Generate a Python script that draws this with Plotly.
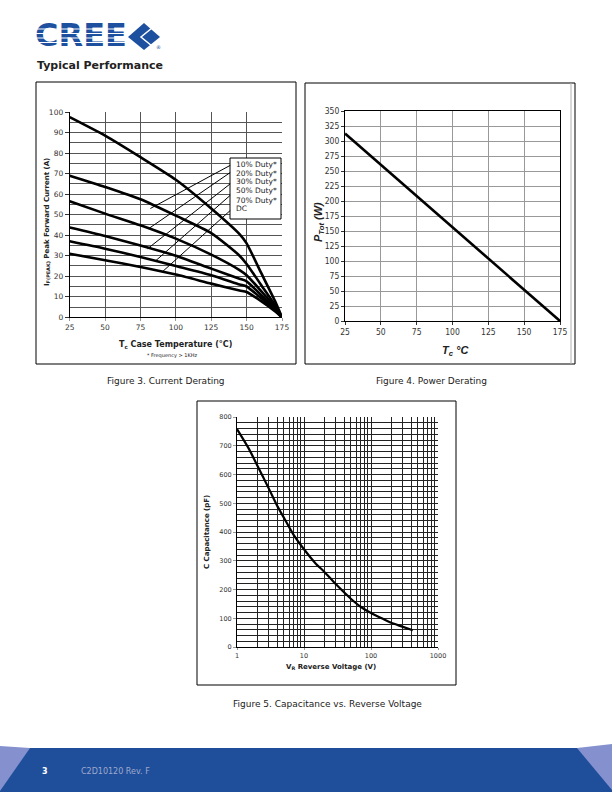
import plotly.graph_objects as go

W, H = 612, 792


def px(x):
    return x / W


def py(y):
    return 1 - y / H


# ---------------- data ----------------
# Figure 3: current derating
tc3 = [25, 50, 75, 100, 125, 145, 150, 160, 170, 175]
i_curve1 = [97.5, 88.5, 78, 67, 53, 40.5, 36, 22, 8, 0]
i_curve2 = [69, 63.5, 57.5, 49.5, 41, 30, 26, 16, 6, 0]
i_curve3 = [56.5, 50.5, 44.8, 38.3, 30.5, 23, 20.5, 13, 5, 0]
i_curve4 = [43.7, 39.6, 35, 30, 23.7, 18.8, 17.5, 11, 4, 0]
i_curve5 = [37, 33.4, 29.4, 25, 20.5, 16, 15, 9.5, 3.5, 0]
i_curve6 = [31, 27.8, 24.5, 20.8, 16.4, 13, 12.3, 8, 3, 0]
legend_labels = ["10% Duty*", "20% Duty*", "30% Duty*", "50% Duty*", "70% Duty*", "DC"]
# leader lines: (start x, start y) at legend box -> (end x, end y) on curve
leader_start_y = [74, 70.5, 65, 59.4, 52]
leader_end_x = [82, 80.8, 80, 85.5, 90.2]
leader_end_y = [53, 43.2, 33.4, 27.4, 22]
leader_start_x = 138.4

# Figure 4: power derating
tc4 = [25, 175]
p_tot = [312.5, 0]

# Figure 5: capacitance vs reverse voltage
vr5 = [1, 1.5, 2, 3, 4, 5, 7, 10, 15, 20, 30, 50, 70, 100, 150, 200, 300, 420]
cap5 = [758, 690, 632, 550, 490, 450, 390, 340, 290, 262, 218, 168, 140, 118, 98, 84, 70, 58]

x3_ticks = [25, 50, 75, 100, 125, 150, 175]
x5_ticks = [1, 10, 100, 1000]
x5_ticktext = ["1", "10", "100", "1000"]
x5_minor = [m * d for d in (1, 10, 100) for m in range(2, 10)]

FONT = "DejaVu Sans, Verdana, sans-serif"
NARROW = "Liberation Sans Narrow, Arial Narrow, DejaVu Sans Condensed, sans-serif"
ARIAL = "Liberation Sans, Arial, sans-serif"
BLUE = "#1e50a0"

fig = go.Figure()

for ys in [i_curve1, i_curve2, i_curve3, i_curve4, i_curve5, i_curve6]:
    fig.add_trace(go.Scatter(x=tc3, y=ys, mode="lines", xaxis="x", yaxis="y",
                             line=dict(color="black", width=2.6, shape="spline", smoothing=0.6),
                             showlegend=False, hoverinfo="skip"))

fig.add_trace(go.Scatter(x=tc4, y=p_tot, mode="lines", xaxis="x2", yaxis="y2",
                         line=dict(color="black", width=2.6), showlegend=False, hoverinfo="skip"))

fig.add_trace(go.Scatter(x=vr5, y=cap5, mode="lines", xaxis="x3", yaxis="y3",
                         line=dict(color="black", width=2.2, shape="spline", smoothing=0.8),
                         showlegend=False, hoverinfo="skip"))

# logo word (page-pixel overlay axes, so white stripes can be drawn over it)
fig.add_trace(go.Scatter(x=[35], y=[37.5], mode="text", text=["<b>CREE</b>"],
                         textposition="middle right", xaxis="x4", yaxis="y4",
                         textfont=dict(family=FONT, size=32, color=BLUE, weight="bold"),
                         showlegend=False, hoverinfo="skip"))

shapes = []
annotations = []


def note(x, y, text, size, family=FONT, color="#222", xanchor="center", angle=0):
    annotations.append(dict(xref="paper", yref="paper", x=px(x), y=py(y), text=text,
                            showarrow=False, xanchor=xanchor, yanchor="middle",
                            textangle=angle, borderpad=0,
                            font=dict(family=family, size=size, color=color)))


# page boxes
for (x0, y0, x1, y1) in [(36, 82, 296, 364), (305, 83, 575, 364), (197, 401, 456, 685)]:
    shapes.append(dict(type="rect", xref="paper", yref="paper", x0=px(x0), x1=px(x1),
                       y0=py(y1), y1=py(y0), line=dict(color="black", width=1), layer="below"))
shapes.append(dict(type="line", xref="paper", yref="paper", x0=px(571), x1=px(571),
                   y0=py(364), y1=py(83), line=dict(color="#b0b0b0", width=1)))

# legend box fig3
shapes.append(dict(type="rect", xref="paper", yref="paper", x0=px(230), x1=px(281),
                   y0=py(219), y1=py(158), line=dict(color="black", width=1),
                   fillcolor="white", layer="above"))
for i, lab in enumerate(legend_labels):
    note(235, 164 + 9 * i, lab, 7.5, xanchor="left")
for sy, ex, ey in zip(leader_start_y, leader_end_x, leader_end_y):
    shapes.append(dict(type="line", xref="x", yref="y", x0=leader_start_x, y0=sy,
                       x1=ex, y1=ey, line=dict(color="black", width=1)))

# axis titles
note(47, 222, "<b>I<sub>F(PEAK)</sub> Peak Forward Current (A)</b>", 7, angle=-90)
note(175, 345, "<b>T<sub>c</sub> Case Temperature (°C)</b>", 8)
note(172, 355, "* Frequency > 1KHz", 5)
note(319, 222, "<b><i>P<sub>Tot</sub> (W)</i></b>", 11, family=ARIAL, angle=-90)
note(455, 351, "<b><i>T<sub>c</sub> °C</i></b>", 11, family=ARIAL)
note(207, 532, "<b>C Capacitance (pF)</b>", 7, angle=-90)
note(331, 667, "<b>V<sub>R</sub> Reverse Voltage (V)</b>", 7)
# captions
note(166, 381, "Figure 3. Current Derating", 9)
note(431, 381, "Figure 4. Power Derating", 9)
note(327, 704, "Figure 5. Capacitance vs. Reverse Voltage", 9)
# header
note(36, 65, "<b>Typical Performance</b>", 11, xanchor="left")
note(158, 47, "®", 5, color=BLUE)
# footer
note(41, 771, "<b>3</b>", 8, color="white", xanchor="left")
note(80, 771, "C2D10120 Rev. F", 8, color="#9fa8cc", xanchor="left")

# logo stripes
for sy in [29, 33.5, 38, 42.5]:
    shapes.append(dict(type="line", xref="paper", yref="paper", x0=px(34), x1=px(128),
                       y0=py(sy), y1=py(sy), line=dict(color="white", width=1.1)))


def path(pts):
    return "M " + " L ".join(f"{px(a):.5f},{py(b):.5f}" for a, b in pts) + " Z"


shapes.append(dict(type="path", xref="paper", yref="paper",
                   path=path([(128, 37), (144, 23), (160, 37), (144, 50)]),
                   fillcolor=BLUE, line=dict(width=0)))
shapes.append(dict(type="path", xref="paper", yref="paper",
                   path="M %f,%f L %f,%f L %f,%f" % (px(152), py(28), px(141), py(37), px(152), py(46)),
                   line=dict(color="white", width=1.5)))

# footer band
shapes.append(dict(type="rect", xref="paper", yref="paper", x0=0, x1=1, y0=0, y1=py(748),
                   fillcolor="#1f4f9b", line=dict(width=0)))
shapes.append(dict(type="path", xref="paper", yref="paper",
                   path=path([(0, 746), (30, 748), (0, 791)]), fillcolor="#8591cf", line=dict(width=0)))
shapes.append(dict(type="path", xref="paper", yref="paper",
                   path=path([(577, 748), (612, 744), (612, 790)]), fillcolor="#8591cf", line=dict(width=0)))

fig.update_layout(
    width=W, height=H, autosize=False,
    margin=dict(l=0, r=0, t=0, b=0, pad=0, autoexpand=False),
    paper_bgcolor="white", plot_bgcolor="rgba(0,0,0,0)",
    showlegend=False, hovermode=False,
    shapes=shapes, annotations=annotations,
    xaxis=dict(domain=[px(69.7), px(282)], range=[25, 175], tickvals=x3_ticks,
               showgrid=True, gridcolor="#555", gridwidth=1, zeroline=False, automargin=False,
               showline=True, linecolor="black", linewidth=1, ticks="outside", ticklen=3,
               tickcolor="#999", tickfont=dict(family=FONT, size=7.5, color="#333"), fixedrange=True),
    yaxis=dict(domain=[py(317.3), py(112)], range=[0, 100], dtick=10, automargin=False,
               showgrid=True, gridcolor="#555", gridwidth=1, zeroline=False,
               minor=dict(dtick=5, showgrid=True, gridcolor="#555", gridwidth=1),
               showline=True, linecolor="black", linewidth=1, ticks="outside", ticklen=4,
               tickcolor="#333", tickfont=dict(family=FONT, size=7.5, color="#333"), fixedrange=True),
    xaxis2=dict(domain=[px(345), px(560)], range=[25, 175], dtick=25, anchor="y2", automargin=False,
                showgrid=True, gridcolor="#999", gridwidth=1, zeroline=False,
                showline=True, mirror=True, linecolor="black", linewidth=1, ticks="outside", ticklen=3,
                tickcolor="#333", tickfont=dict(family=NARROW, size=8.5, color="#333"), fixedrange=True),
    yaxis2=dict(domain=[py(321), py(111)], range=[0, 350], dtick=25, anchor="x2", automargin=False,
                showgrid=True, gridcolor="#999", gridwidth=1, zeroline=False,
                showline=True, mirror=True, linecolor="black", linewidth=1, ticks="outside", ticklen=3,
                tickcolor="#333", tickfont=dict(family=NARROW, size=8.5, color="#333"), fixedrange=True),
    xaxis3=dict(domain=[px(237), px(438)], type="log", range=[0, 3], anchor="y3", automargin=False,
                tickvals=x5_ticks, ticktext=x5_ticktext,
                showgrid=True, gridcolor="#222", gridwidth=1, zeroline=False,
                minor=dict(tickvals=x5_minor, showgrid=True, gridcolor="#222", gridwidth=1),
                showline=True, linecolor="black", linewidth=1, ticks="outside", ticklen=2,
                tickcolor="#999", tickfont=dict(family=FONT, size=6.5, color="#333"), fixedrange=True),
    yaxis3=dict(domain=[py(647), py(417)], range=[0, 800], dtick=100, anchor="x3", automargin=False,
                showgrid=True, gridcolor="#222", gridwidth=1, zeroline=False,
                minor=dict(dtick=20, showgrid=True, gridcolor="#222", gridwidth=1),
                showline=True, linecolor="black", linewidth=1, ticks="outside", ticklen=3,
                tickcolor="#999", tickfont=dict(family=FONT, size=6.5, color="#333"), fixedrange=True),
    xaxis4=dict(domain=[0, 1], range=[0, W], anchor="y4", visible=False, fixedrange=True,
                automargin=False),
    yaxis4=dict(domain=[0, 1], range=[H, 0], anchor="x4", visible=False, fixedrange=True,
                automargin=False),
)

fig.write_html(
    "out.html",
    config={"displayModeBar": False, "staticPlot": True},
    post_script="document.body.style.margin='0px';document.documentElement.style.overflow='hidden';",
)
